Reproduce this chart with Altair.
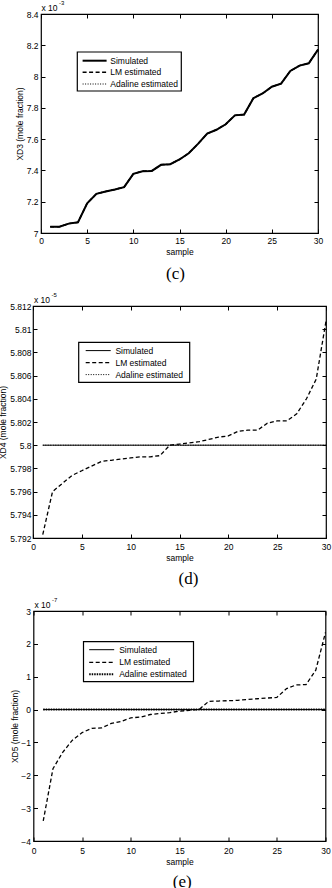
import altair as alt
import pandas as pd

samples = list(range(1, 31))
x_ticks = [0, 5, 10, 15, 20, 25, 30]
series_names = ["Simulated", "LM estimated", "Adaline estimated"]

# panel (c): XD3 (x 1e-3)
c_simulated = [7.04, 7.04, 7.06, 7.068, 7.19, 7.25, 7.265, 7.278, 7.293, 7.378,
               7.395, 7.397, 7.436, 7.44, 7.47, 7.51, 7.57, 7.635, 7.66, 7.695,
               7.752, 7.757, 7.862, 7.892, 7.935, 7.955, 8.036, 8.07, 8.085, 8.172]
c_lm = [7.04, 7.04, 7.06, 7.068, 7.19, 7.25, 7.265, 7.278, 7.293, 7.378,
        7.395, 7.397, 7.436, 7.44, 7.47, 7.51, 7.57, 7.635, 7.66, 7.695,
        7.752, 7.757, 7.862, 7.892, 7.935, 7.955, 8.036, 8.07, 8.085, 8.172]
c_adaline = [7.04, 7.04, 7.06, 7.068, 7.19, 7.25, 7.265, 7.278, 7.293, 7.378,
             7.395, 7.397, 7.436, 7.44, 7.47, 7.51, 7.57, 7.635, 7.66, 7.695,
             7.752, 7.757, 7.862, 7.892, 7.935, 7.955, 8.036, 8.07, 8.085, 8.172]
c_yticks = [7, 7.2, 7.4, 7.6, 7.8, 8, 8.2, 8.4]

# panel (d): XD4 (x 1e-5)
d_simulated = [5.8, 5.8, 5.8, 5.8, 5.8, 5.8, 5.8, 5.8, 5.8, 5.8,
               5.8, 5.8, 5.8, 5.8, 5.8, 5.8, 5.8, 5.8, 5.8, 5.8,
               5.8, 5.8, 5.8, 5.8, 5.8, 5.8, 5.8, 5.8, 5.8, 5.8]
d_lm = [5.7923, 5.7960, 5.7967, 5.7974, 5.7978, 5.7982, 5.7986, 5.7987, 5.7988, 5.7989,
        5.7990, 5.7990, 5.7991, 5.8000, 5.8001, 5.8002, 5.8003, 5.8005, 5.8007, 5.8008,
        5.8012, 5.8013, 5.8013, 5.8019, 5.8021, 5.8021, 5.8027, 5.8040, 5.8057, 5.8107]
d_adaline = [5.8, 5.8, 5.8, 5.8, 5.8, 5.8, 5.8, 5.8, 5.8, 5.8,
             5.8, 5.8, 5.8, 5.8, 5.8, 5.8, 5.8, 5.8, 5.8, 5.8,
             5.8, 5.8, 5.8, 5.8, 5.8, 5.8, 5.8, 5.8, 5.8, 5.8]
d_yticks = [5.792, 5.794, 5.796, 5.798, 5.8, 5.802, 5.804, 5.806, 5.808, 5.81, 5.812]

# panel (e): XD5 (x 1e-7)
e_simulated = [0, 0, 0, 0, 0, 0, 0, 0, 0, 0,
               0, 0, 0, 0, 0, 0, 0, 0, 0, 0,
               0, 0, 0, 0, 0, 0, 0, 0, 0, 0]
e_lm = [-3.39, -1.8, -1.3, -0.93, -0.7, -0.57, -0.56, -0.42, -0.36, -0.25,
        -0.23, -0.15, -0.12, -0.09, -0.05, -0.02, 0.0, 0.25, 0.26, 0.27,
        0.28, 0.31, 0.33, 0.35, 0.37, 0.64, 0.75, 0.76, 1.2, 2.35]
e_adaline = [0, 0, 0, 0, 0, 0, 0, 0, 0, 0,
             0, 0, 0, 0, 0, 0, 0, 0, 0, 0,
             0, 0, 0, 0, 0, 0, 0, 0, 0, 0]
e_yticks = [-4, -3, -2, -1, 0, 1, 2, 3]

SANS = "Liberation Sans"
SERIF = "Liberation Serif"
FS = 8.5


def panel(sim, lm, ada, ydom, yticks, W, H, ytitle, exponent, caption, st):
    df = pd.DataFrame({
        "sample": samples * 3,
        "value": sim + lm + ada,
        "series": [series_names[0]] * 30 + [series_names[1]] * 30 + [series_names[2]] * 30,
    })
    xaxis = alt.Axis(values=x_ticks, format="d", title="sample", grid=True,
                     gridDash=[4, H - 8, 4, H + 50], gridColor="black", gridOpacity=1, gridWidth=1,
                     ticks=False, tickSize=0, domain=False, labelFlush=False,
                     labelFont=SANS, labelFontSize=FS, labelColor="black", labelPadding=st["xlp"],
                     titleFont=SANS, titleFontSize=FS, titleFontWeight="normal", titleColor="black",
                     titlePadding=st["xtp"])
    yaxis = alt.Axis(values=yticks, format="~g", title=ytitle, grid=True,
                     gridDash=[4, W - 8, 4, W + 50], gridColor="black", gridOpacity=1, gridWidth=1,
                     ticks=False, tickSize=0, domain=False, labelFlush=False,
                     labelFont=SANS, labelFontSize=FS, labelColor="black", labelPadding=st["ylp"],
                     titleFont=SANS, titleFontSize=FS, titleFontWeight="normal", titleColor="black",
                     titleX=st["ytx"], titleY=H / 2, titleBaseline="middle")
    x = alt.X("sample:Q", scale=alt.Scale(domain=[0, 30], nice=False, zero=False), axis=xaxis)
    y = alt.Y("value:Q", scale=alt.Scale(domain=ydom, nice=False, zero=False), axis=yaxis)
    base = alt.Chart(df).encode(x=x, y=y)
    styles = [
        dict(strokeWidth=st["sw_sim"]),
        dict(strokeWidth=st["sw_lm"], strokeDash=[4, 2.5]),
        dict(strokeWidth=st["sw_ada"], strokeDash=st["ada_dash"]),
    ]
    layers = []
    for name, sty in zip(series_names, styles):
        layers.append(base.transform_filter(alt.datum.series == name)
                      .mark_line(color="black", **sty))

    one = alt.Chart(pd.DataFrame({"k": [0]}))
    lx0, lx1, ly0, ly1 = st["box"]
    layers.append(one.mark_rect(fill="white", stroke="black", strokeWidth=1.2).encode(
        x=alt.value(lx0), x2=alt.value(lx1), y=alt.value(ly0), y2=alt.value(ly1)))
    sx0, sx1, tx = st["lx"]
    for name, sty, ry in zip(series_names, styles, st["rows"]):
        layers.append(one.mark_rule(color="black", **sty).encode(
            x=alt.value(sx0), x2=alt.value(sx1), y=alt.value(ry)))
        layers.append(one.mark_text(align="left", baseline="middle", font=SANS,
                                    fontSize=FS, color="black").encode(
            x=alt.value(tx), y=alt.value(ry), text=alt.value(name)))
    # "x 10^-n" multiplier
    layers.append(one.mark_text(align="left", baseline="alphabetic", font=SANS,
                                fontSize=FS, color="black").encode(
        x=alt.value(st["mx"]), y=alt.value(-3.5), text=alt.value("x 10")))
    layers.append(one.mark_text(align="left", baseline="alphabetic", font=SANS,
                                fontSize=6, color="black").encode(
        x=alt.value(st["mx"] + 17.5), y=alt.value(-9.5), text=alt.value(exponent)))
    # caption
    layers.append(one.mark_text(align="center", baseline="alphabetic", font=SERIF,
                                fontSize=17, color="black").encode(
        x=alt.value(st["capx"]), y=alt.value(st["capy"]), text=alt.value(caption)))
    return alt.layer(*layers).properties(width=W, height=H)


pc = panel(c_simulated, c_lm, c_adaline, [7, 8.4], c_yticks, 277, 219,
           "XD3 (mole fraction)", "-3", "(c)",
           dict(xlp=3, xtp=3, ylp=3, ytx=-22, sw_sim=2.0, sw_lm=1.5, sw_ada=1.2,
                ada_dash=[1, 1.5], box=(36.3, 140.3, 38, 77),
                lx=(41.6, 65.6, 69.3), rows=[46.7, 58.3, 70], mx=0.5,
                capx=134.5, capy=265))
pdd = panel(d_simulated, d_lm, d_adaline, [5.792, 5.812], d_yticks, 293, 232,
            "XD4 (mole fraction)", "-5", "(d)",
            dict(xlp=4, xtp=3, ylp=2, ytx=-31, sw_sim=1.0, sw_lm=1.3, sw_ada=1.0,
                 ada_dash=[1, 1.5], box=(45.7, 156.7, 36.3, 76.3),
                 lx=(52.7, 77.7, 82.4), rows=[44.6, 56.6, 68.6], mx=1,
                 capx=155.4, capy=278))
pe = panel(e_simulated, e_lm, e_adaline, [-4, 3], e_yticks, 292, 230,
           "XD5 (mole fraction)", "-7", "(e)",
           dict(xlp=5, xtp=3, ylp=3, ytx=-19.5, sw_sim=1.0, sw_lm=1.3, sw_ada=2.0,
                ada_dash=[1.5, 1], box=(50, 160, 30.7, 70.7),
                lx=(55.7, 80.7, 85.7), rows=[38.7, 51.3, 63.3], mx=1,
                capx=148.7, capy=276))

chart = alt.vconcat(pc, pdd, pe, spacing=73, bounds="flush", center=True).properties(
    padding={"left": -3, "top": -2, "right": 0, "bottom": 0}
).configure_view(stroke="black", strokeWidth=1.2)

chart.save("out.html", embed_options={"renderer": "svg", "actions": False})
